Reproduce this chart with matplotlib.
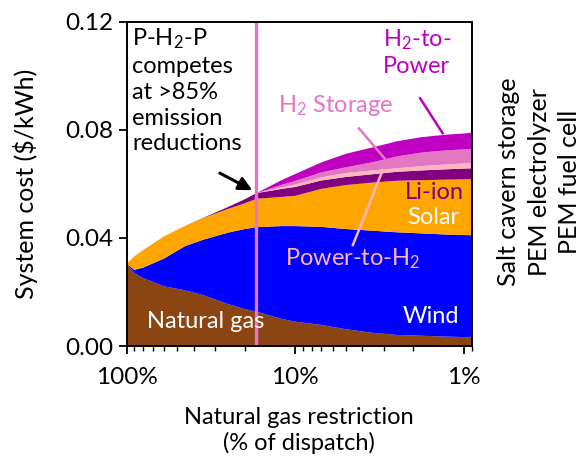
import numpy as np
import matplotlib
matplotlib.use("Agg")
import matplotlib.pyplot as plt

plt.rcParams['font.family'] = ['Lato', 'DejaVu Sans']
plt.rcParams['mathtext.fontset'] = 'custom'
plt.rcParams['mathtext.rm'] = 'Lato'

# natural gas restriction (% of dispatch)
restriction = [100, 90, 80, 60, 45, 35, 25, 20, 17, 12, 10, 7, 5, 3.5, 2.5, 1.8, 1.3, 1, 0.9]

# cost contribution of each technology ($/kWh), stacked bottom-up
natural_gas = [0.0305, 0.0270, 0.0252, 0.0221, 0.0206, 0.0188, 0.0155, 0.0137, 0.0127, 0.0100,
               0.0090, 0.0078, 0.0062, 0.0049, 0.0041, 0.0038, 0.0035, 0.0033, 0.0032]
wind = [0.0, 0.0012, 0.0038, 0.0103, 0.0164, 0.0206, 0.0265, 0.0296, 0.0313, 0.0344,
        0.0354, 0.0363, 0.0371, 0.0378, 0.0380, 0.0379, 0.0378, 0.0378, 0.0378]
solar = [0.0, 0.0050, 0.0065, 0.0082, 0.0075, 0.0080, 0.0088, 0.0095, 0.0105, 0.0108,
         0.0112, 0.0141, 0.0163, 0.0178, 0.0191, 0.0197, 0.0203, 0.0206, 0.0208]
li_ion = [0, 0, 0, 0, 0, 0.0001, 0.0007, 0.0015, 0.0021, 0.0030,
          0.0033, 0.0031, 0.0030, 0.0031, 0.0033, 0.0036, 0.0038, 0.0040, 0.0040]
power_to_h2 = [0, 0, 0, 0, 0, 0, 0, 0, 0, 0.0006,
               0.0009, 0.0012, 0.0015, 0.0014, 0.0013, 0.0016, 0.0018, 0.0019, 0.0020]
h2_storage = [0, 0, 0, 0, 0, 0, 0, 0, 0, 0.0009,
              0.0013, 0.0018, 0.0021, 0.0030, 0.0044, 0.0050, 0.0052, 0.0052, 0.0052]
h2_to_power = [0, 0, 0, 0, 0, 0, 0, 0, 0, 0.0018,
               0.0026, 0.0037, 0.0050, 0.0055, 0.0056, 0.0057, 0.0058, 0.0059, 0.0060]

competes_at = 17  # % restriction where P-H2-P enters

c_ng = '#8B4513'
c_wind = '#0000FF'
c_solar = '#FFA500'
c_li = '#800080'
c_p2h = '#FFB6C1'
c_sto = '#E377C2'
c_h2p = '#C000C0'

fig = plt.figure(figsize=(5.81, 4.66), dpi=100)
ax = fig.add_axes([0.218, 0.2575, 0.594, 0.6955])

ax.stackplot(restriction, natural_gas, wind, solar, li_ion, power_to_h2, h2_storage, h2_to_power,
             colors=[c_ng, c_wind, c_solar, c_li, c_p2h, c_sto, c_h2p], linewidth=0)
ax.axvline(competes_at, color=c_sto, lw=2.4)

ax.set_xscale('log')
ax.set_xlim(100, 0.9)
ax.set_ylim(0, 0.12)
ax.set_yticks([0, 0.04, 0.08, 0.12])
ax.set_yticklabels(['0.00', '0.04', '0.08', '0.12'])
ax.set_xticks([100, 10, 1])
ax.set_xticklabels(['100%', '10%', '1%'])
ax.tick_params(axis='both', which='major', labelsize=17.5, length=6, width=1.3, direction='out')
ax.tick_params(axis='x', which='major', pad=9)
ax.tick_params(axis='x', which='minor', length=3.5, width=1.0)
for s in ax.spines.values():
    s.set_linewidth(1.4)

ax.set_ylabel('System cost ($/kWh)', fontsize=18, labelpad=20)
ax.set_xlabel('Natural gas restriction\n(% of dispatch)', fontsize=17, labelpad=14, linespacing=1.2)

fs = 17
ax.text(0.016, 0.985, 'P-H$\\mathregular{_2}$-P\ncompetes\nat >85%\nemission\nreductions',
        fontsize=fs, ha='left', va='top', linespacing=1.28, transform=ax.transAxes)
ax.annotate('', xy=(competes_at + 0.4, 0.0572), xytext=(29, 0.0645),
            arrowprops=dict(arrowstyle='-|>', color='black', lw=2.2, mutation_scale=20))

ax.text(3.04, 0.1178, 'H$\\mathregular{_2}$-to-\nPower', fontsize=fs, color=c_h2p,
        ha='left', va='top', linespacing=1.2)
ax.plot([1.82, 1.34], [0.0917, 0.0788], color=c_h2p, lw=1.8)

ax.text(5.77, 0.0889, 'H$\\mathregular{_2}$ Storage', fontsize=fs, color=c_sto, ha='center', va='center')
ax.plot([4.2, 2.96], [0.0806, 0.0695], color=c_sto, lw=1.8)

ax.text(1.5, 0.0570, 'Li-ion', fontsize=fs, color=c_li, ha='center', va='center')
ax.text(1.52, 0.0474, 'Solar', fontsize=fs, color='white', ha='center', va='center')
ax.text(4.58, 0.0322, 'Power-to-H$\\mathregular{_2}$', fontsize=fs, color=c_p2h, ha='center', va='center')
ax.plot([4.56, 3.03], [0.0374, 0.0652], color=c_p2h, lw=1.8)
ax.text(1.58, 0.0111, 'Wind', fontsize=fs, color='white', ha='center', va='center')
ax.text(34, 0.0089, 'Natural gas', fontsize=fs, color='white', ha='center', va='center')

fig.text(0.928, 0.61, 'Salt cavern storage\nPEM electrolyzer\nPEM fuel cell', fontsize=18,
         rotation=90, ha='center', va='center', linespacing=1.4, multialignment='center')

fig.savefig('out.png', dpi=100)
